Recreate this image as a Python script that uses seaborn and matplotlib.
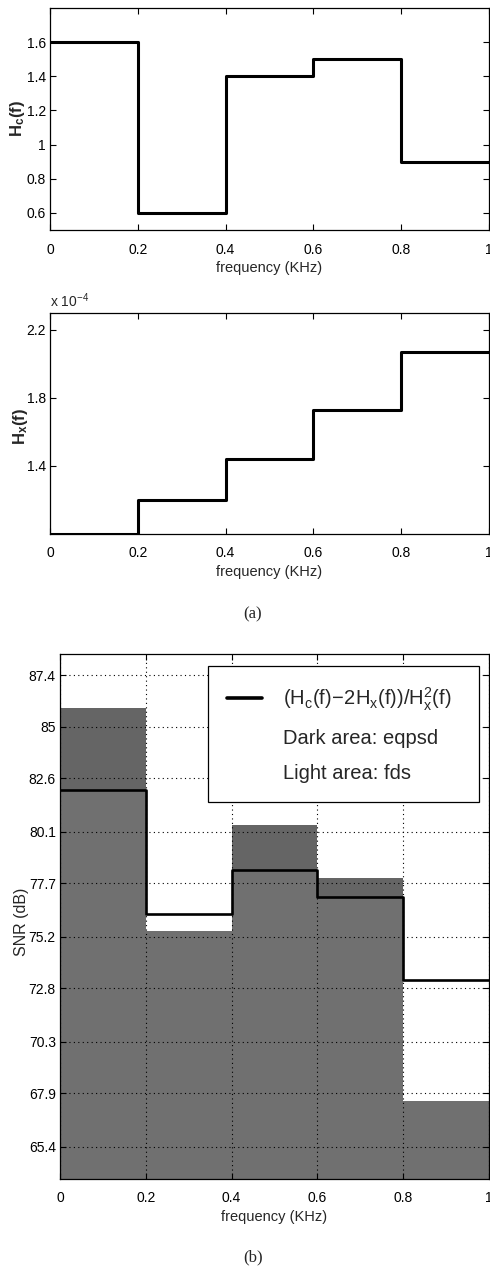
import numpy as np
import pandas as pd
import matplotlib
matplotlib.use("Agg")
import matplotlib.pyplot as plt
from matplotlib import font_manager
from matplotlib.lines import Line2D
import seaborn as sns

# Frequency band edges (KHz)
band_edges = [0.0, 0.2, 0.4, 0.6, 0.8, 1.0]
# Channel response H_c(f) per band
hc_values = [1.6, 0.6, 1.4, 1.5, 0.9]
# Crosstalk response H_x(f) per band, in units of 1e-4
hx_values = [1.0, 1.2, 1.44, 1.73, 2.07]
# SNR per band (dB)
snr_eqpsd = [85.9, 75.45, 80.4, 77.95, 67.55]
snr_fds = [82.05, 75.45, 78.3, 77.05, 67.55]
snr_ratio = [82.05, 76.25, 78.3, 77.05, 73.2]

freq_tick_labels = ["0", "0.2", "0.4", "0.6", "0.8", "1"]
hc_tick_labels = ["0.6", "0.8", "1", "1.2", "1.4", "1.6"]
hx_tick_labels = ["1.4", "1.8", "2.2"]
snr_tick_labels = ["65.4", "67.9", "70.3", "72.8", "75.2",
                   "77.7", "80.1", "82.6", "85", "87.4"]

sns.set_style("ticks")
available = {f.name for f in font_manager.fontManager.ttflist}
narrow = "Liberation Sans Narrow" if "Liberation Sans Narrow" in available else "Liberation Sans"
plt.rcParams["font.family"] = [narrow, "DejaVu Sans"]
plt.rcParams["mathtext.fontset"] = "custom"
plt.rcParams["mathtext.rm"] = narrow
plt.rcParams["mathtext.it"] = narrow
plt.rcParams["mathtext.bf"] = narrow + ":bold"
plt.rcParams["mathtext.default"] = "rm"

W, H = 490, 1269
fig = plt.figure(figsize=(W / 100, H / 100), dpi=100)


def px_axes(left, top, right, bottom):
    return fig.add_axes([left / W, 1 - bottom / H, (right - left) / W, (bottom - top) / H])


def step_frame(values):
    vals = list(values) + [values[-1]]
    return pd.DataFrame({"freq": band_edges, "value": vals})


def style_axes(ax):
    for s in ax.spines.values():
        s.set_visible(True)
        s.set_color("black")
        s.set_linewidth(0.9)
    ax.tick_params(direction="in", top=True, right=True, length=4, width=0.8,
                   labelsize=10, colors="black")
    ax.tick_params(axis="x", pad=9)
    ax.tick_params(axis="y", pad=3)
    ax.set_xlim(0, 1)
    ax.set_xticks([float(t) for t in freq_tick_labels])
    ax.set_xticklabels(freq_tick_labels)
    ax.set_xlabel("frequency (KHz)", fontsize=10.5, labelpad=3)


# (a) top: channel response
ax1 = px_axes(50, 8, 489, 230)
sns.lineplot(data=step_frame(hc_values), x="freq", y="value", drawstyle="steps-post",
             color="black", lw=2.2, estimator=None, ax=ax1)
style_axes(ax1)
ax1.set_ylim(0.5, 1.8)
ax1.set_yticks([float(t) for t in hc_tick_labels])
ax1.set_yticklabels(hc_tick_labels)
ax1.set_ylabel(r"$\mathbf{H_c(f)}$", fontsize=12)
ax1.yaxis.set_label_coords(-0.052, 0.5)

# (a) bottom: crosstalk response
ax2 = px_axes(50, 313, 489, 534)
sns.lineplot(data=step_frame(hx_values), x="freq", y="value", drawstyle="steps-post",
             color="black", lw=2.2, estimator=None, ax=ax2)
style_axes(ax2)
ax2.set_ylim(1.0, 2.3)
ax2.set_yticks([float(t) for t in hx_tick_labels])
ax2.set_yticklabels(hx_tick_labels)
ax2.set_ylabel(r"$\mathbf{H_x(f)}$", fontsize=12)
ax2.yaxis.set_label_coords(-0.045, 0.484)
ax2.text(0, 1.015, r"x 10$^{-4}$", transform=ax2.transAxes, ha="left", va="bottom",
         fontsize=10)

# (b): SNR comparison
ax3 = px_axes(60, 654, 489, 1179)
centers = [(a + b) / 2 for a, b in zip(band_edges[:-1], band_edges[1:])]
sns.histplot(x=centers, weights=snr_eqpsd, bins=band_edges, element="bars", fill=True,
             color="#656565", alpha=1, linewidth=0, shrink=1, ax=ax3, zorder=1)
sns.histplot(x=centers, weights=snr_fds, bins=band_edges, element="bars", fill=True,
             color="#707070", alpha=1, linewidth=0, shrink=1, ax=ax3, zorder=1.1)
sns.lineplot(data=step_frame(snr_ratio), x="freq", y="value", drawstyle="steps-post",
             color="black", lw=1.9, estimator=None, ax=ax3, zorder=4)
style_axes(ax3)
ax3.set_ylim(63.9, 88.4)
ax3.set_yticks([float(t) for t in snr_tick_labels])
ax3.set_yticklabels(snr_tick_labels)
ax3.set_axisbelow(False)
ax3.grid(True, color="black", linestyle=(0, (1, 3)), linewidth=0.8)
ax3.set_ylabel("SNR (dB)", fontsize=11.5, family=["Liberation Sans", "DejaVu Sans"])
ax3.yaxis.set_label_coords(-0.073, 0.49)

handles = [Line2D([], [], color="black", lw=2.6),
           Line2D([], [], color="none"),
           Line2D([], [], color="none")]
labels = [r"$(H_c(f)\!-\!2H_x(f))/H_x^2(f)$", "Dark area: eqpsd", "Light area: fds"]
leg = ax3.legend(handles, labels, loc="upper left",
                 bbox_to_anchor=(0.345, 0.709, 0.632, 0.268), mode="expand",
                 borderaxespad=0, fontsize=14.5, handlelength=1.75, handletextpad=1.0,
                 labelspacing=0.8, borderpad=0.95, fancybox=False, framealpha=1,
                 edgecolor="black")
leg.get_frame().set_linewidth(0.9)
leg.set_zorder(5)

fig.text(253 / W, 1 - 614 / H, "(a)", family="Liberation Serif", fontsize=12,
         ha="center", va="center")
fig.text(253 / W, 1 - 1257 / H, "(b)", family="Liberation Serif", fontsize=12,
         ha="center", va="center")

fig.savefig("out.png", dpi=100)
